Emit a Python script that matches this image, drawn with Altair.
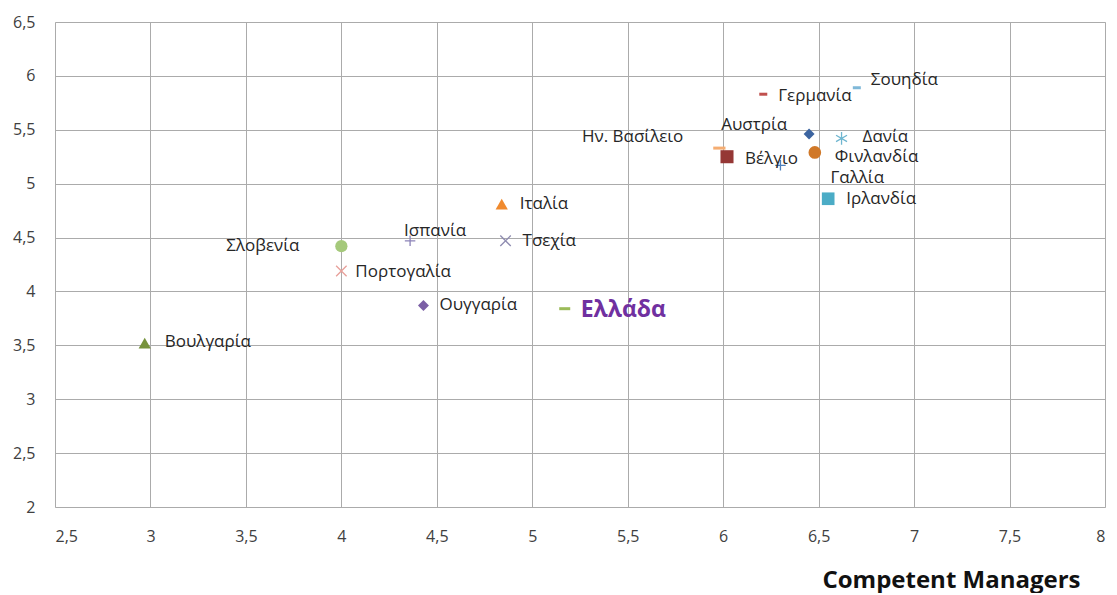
import altair as alt
import pandas as pd

# ---- data ----
countries = ["Βουλγαρία", "Σλοβενία", "Πορτογαλία", "Ισπανία", "Ουγγαρία",
             "Ιταλία", "Τσεχία", "Ελλάδα", "Ην. Βασίλειο", "Βέλγιο",
             "Αυστρία", "Γερμανία", "Σουηδία", "Δανία", "Φινλανδία",
             "Γαλλία", "Ιρλανδία"]
competent_managers = [2.97, 4.00, 4.00, 4.36, 4.43, 4.84, 4.86, 5.17, 5.98, 6.02,
                      6.45, 6.21, 6.70, 6.62, 6.48, 6.30, 6.55]
y_values = [3.52, 4.42, 4.19, 4.47, 3.87, 4.81, 4.47, 3.84, 5.33, 5.25,
            5.46, 5.83, 5.89, 5.42, 5.29, 5.17, 4.86]
x_ticks = [2.5, 3, 3.5, 4, 4.5, 5, 5.5, 6, 6.5, 7, 7.5, 8]
y_ticks = [2, 2.5, 3, 3.5, 4, 4.5, 5, 5.5, 6, 6.5]

# ---- marker styles (shape, fill, stroke, size, stroke width) ----
XCROSS = "M-1,-1L1,1M-1,1L1,-1"
PLUS = "M-1,0L1,0M0,-1L0,1"
STAR = "M0,-1L0,1M-0.87,-0.5L0.87,0.5M-0.87,0.5L0.87,-0.5"
DASH = "M-1,0L1,0"
style = {
    "Βουλγαρία": ("triangle-up", "#77933C", "transparent", 150, 0),
    "Σλοβενία": ("circle", "#A5C97B", "transparent", 150, 0),
    "Πορτογαλία": (XCROSS, "transparent", "#E8A09A", 110, 1.3),
    "Ισπανία": (PLUS, "transparent", "#8C83B8", 110, 1.3),
    "Ουγγαρία": ("diamond", "#7B5FA5", "transparent", 120, 0),
    "Ιταλία": ("triangle-up", "#F08A2E", "transparent", 150, 0),
    "Τσεχία": (XCROSS, "transparent", "#8E8BB0", 110, 1.3),
    "Ελλάδα": (DASH, "transparent", "#9BBB59", 121, 3),
    "Ην. Βασίλειο": (DASH, "transparent", "#F5AD72", 150, 3),
    "Βέλγιο": ("square", "#953735", "transparent", 170, 0),
    "Αυστρία": ("diamond", "#3C64A0", "transparent", 120, 0),
    "Γερμανία": (DASH, "transparent", "#C0504D", 64, 3),
    "Σουηδία": (DASH, "transparent", "#7FB8D8", 64, 3),
    "Δανία": (STAR, "transparent", "#6FB6D0", 160, 1.3),
    "Φινλανδία": ("circle", "#D07828", "transparent", 160, 0),
    "Γαλλία": (PLUS, "transparent", "#4F81BD", 110, 1.3),
    "Ιρλανδία": ("square", "#4BACC6", "transparent", 160, 0),
}
# label placement: (align, dx, dy)
label_pos = {
    "Βουλγαρία": ("left", 20, -1),
    "Σλοβενία": ("right", -42, 0),
    "Πορτογαλία": ("left", 14, 1),
    "Ισπανία": ("left", -6, -10),
    "Ουγγαρία": ("left", 16, 0),
    "Ιταλία": ("left", 18, 0),
    "Τσεχία": ("left", 17, 0),
    "Ελλάδα": ("left", 16, 1),
    "Ην. Βασίλειο": ("right", -36, -11),
    "Βέλγιο": ("left", 18, 2),
    "Αυστρία": ("right", -22, -9),
    "Γερμανία": ("left", 15, 2),
    "Σουηδία": ("left", 14, -8),
    "Δανία": ("left", 21, -1),
    "Φινλανδία": ("left", 20, 5),
    "Γαλλία": ("left", 50, 13),
    "Ιρλανδία": ("left", 18, 0),
}

df = pd.DataFrame({"country": countries, "x": competent_managers, "y": y_values})
df["shape"] = [style[c][0] for c in countries]
df["fill"] = [style[c][1] for c in countries]
df["stroke"] = [style[c][2] for c in countries]
df["size"] = [style[c][3] for c in countries]
df["sw"] = [style[c][4] for c in countries]

FONT = "Open Sans"
fmt = "replace(format(datum.value, '.1~f'), '.', ',')"

x_enc = alt.X("x:Q", scale=alt.Scale(domain=[2.5, 8], nice=False, zero=False),
              axis=alt.Axis(values=x_ticks, labelExpr=fmt, grid=True, ticks=False,
                            domain=False, labelPadding=21, labelFontSize=16,
                            labelFont=FONT, labelColor="#404040",
                            gridColor="#ABABAB", gridWidth=1,
                            title="Competent Managers", titleFont=FONT,
                            titleFontSize=24, titleFontWeight="bold",
                            titleColor="#111111", titleAnchor="end",
                            titleAlign="right", titleX=1025, titleY=80,
                            titleBaseline="alphabetic"))
y_enc = alt.Y("y:Q", scale=alt.Scale(domain=[2, 6.5], nice=False, zero=False),
              axis=alt.Axis(values=y_ticks, labelExpr=fmt, grid=True, ticks=False,
                            domain=False, labelPadding=20, labelFontSize=16,
                            labelFont=FONT, labelColor="#404040",
                            gridColor="#ABABAB", gridWidth=1, title=None))

base = alt.Chart(df)

points = base.mark_point(opacity=1).encode(
    x=x_enc, y=y_enc,
    shape=alt.Shape("shape:N", scale=None),
    fill=alt.Fill("fill:N", scale=None),
    stroke=alt.Stroke("stroke:N", scale=None),
    size=alt.Size("size:Q", scale=None),
    strokeWidth=alt.StrokeWidth("sw:Q", scale=None),
)

layers = [points]
for c in countries:
    align, dx, dy = label_pos[c]
    if c == "Ελλάδα":
        mk = dict(fontSize=23, fontWeight="bold", color="#7030A0")
    else:
        mk = dict(fontSize=17, color="#262626")
    layers.append(
        base.transform_filter(alt.datum.country == c).mark_text(
            align=align, baseline="middle", font=FONT, dx=dx, dy=dy, **mk
        ).encode(x="x:Q", y="y:Q", text="country:N")
    )

chart = alt.layer(*layers).properties(
    width=1050, height=485,
    padding={"left": 47, "top": 14, "right": 2, "bottom": 86},
    autosize="none",
).configure_view(stroke="#ABABAB", strokeWidth=1).configure(background="white")

chart.save("out.html", embed_options={"renderer": "svg", "actions": False})
